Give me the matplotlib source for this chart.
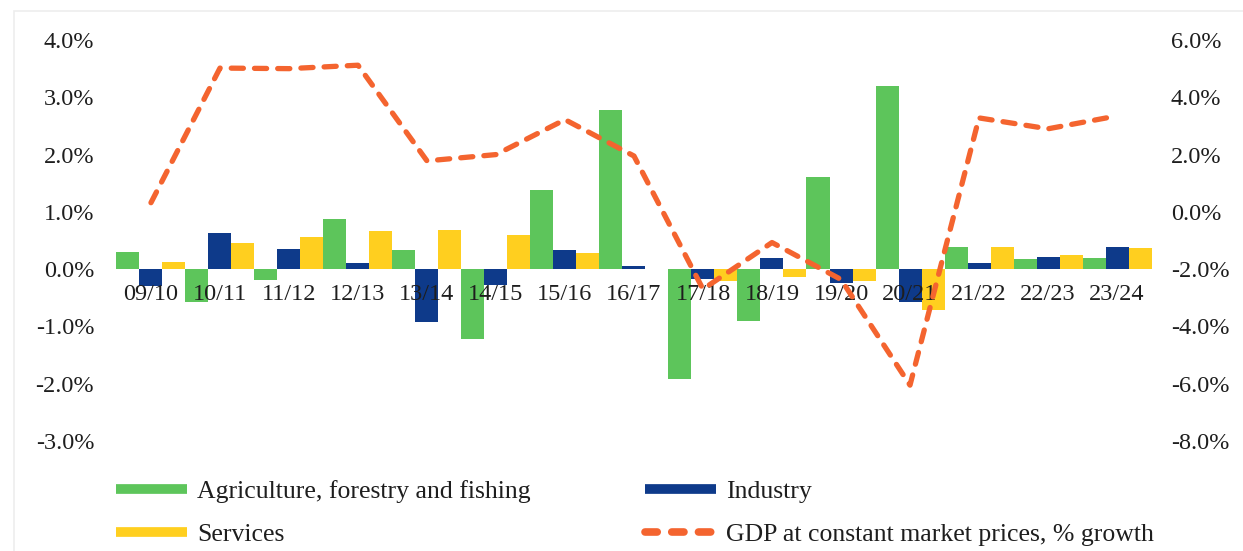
import numpy as np
import matplotlib
matplotlib.use("Agg")
import matplotlib.pyplot as plt
from matplotlib.lines import Line2D
from matplotlib.patches import Rectangle

# Fiscal years
years = ["09/10", "10/11", "11/12", "12/13", "13/14", "14/15", "15/16", "16/17",
         "17/18", "18/19", "19/20", "20/21", "21/22", "22/23", "23/24"]

# Sector contributions to growth, percentage points (left axis)
agriculture = [0.30, -0.57, -0.19, 0.88, 0.34, -1.22, 1.39, 2.78,
               -1.91, -0.91, 1.61, 3.20, 0.38, 0.17, 0.19]
industry = [-0.30, 0.63, 0.35, 0.10, -0.93, -0.28, 0.33, 0.06,
            -0.17, 0.19, -0.25, -0.58, 0.10, 0.22, 0.39]
services = [0.13, 0.46, 0.56, 0.66, 0.68, 0.59, 0.29, 0.0,
            -0.20, -0.14, -0.20, -0.72, 0.38, 0.25, 0.37]

# Real GDP growth, % (right axis)
gdp_growth = [0.32, 5.02, 5.00, 5.12, 1.78, 2.00, 3.22, 1.95,
              -2.70, -1.07, -2.36, -6.05, 3.28, 2.90, 3.35]

left_ticks = [4.0, 3.0, 2.0, 1.0, 0.0, -1.0, -2.0, -3.0]
right_ticks = [6.0, 4.0, 2.0, 0.0, -2.0, -4.0, -6.0, -8.0]

GREEN = "#5DC55B"
BLUE = "#0E3A8A"
YELLOW = "#FFCF1F"
ORANGE = "#F4642F"
TEXT = "#1E1E1E"

plt.rcParams["font.family"] = ["Liberation Serif", "DejaVu Serif"]
FS = 17.5
LEG_FS = 18.5

fig = plt.figure(figsize=(12.43, 5.51), dpi=100)
ax = fig.add_axes([0.0937, 0.1996, 0.8327, 0.7278])

x = np.arange(len(years))
w = 1 / 3
ax.bar(x - w, agriculture, width=w, color=GREEN, zorder=2)
ax.bar(x, industry, width=w, color=BLUE, zorder=2)
ax.bar(x + w, services, width=w, color=YELLOW, zorder=2)

# category labels sit just under the zero line, drawn over the bars
ax.spines["bottom"].set_position(("data", 0))
for s in ax.spines.values():
    s.set_visible(False)
ax.set_axisbelow(False)
ax.set_xlim(-0.5, len(years) - 0.5)
ax.set_ylim(-3.0, 4.0)
ax.set_xticks(x)
ax.set_xticklabels(years, color=TEXT, fontsize=FS)
ax.set_yticks(left_ticks)
ax.set_yticklabels([f"{v:.1f}%" for v in left_ticks], color=TEXT, fontsize=FS)
ax.tick_params(axis="y", length=0, pad=16)
ax.tick_params(axis="x", length=0, pad=11)

ax2 = ax.twinx()
ax2.plot(x, gdp_growth, color=ORANGE, lw=3.8, linestyle=(0, (2.3, 2.1)),
         dash_capstyle="round", solid_joinstyle="round",
         dash_joinstyle="round", zorder=3)
ax2.set_ylim(-8.0, 6.0)
ax2.set_yticks(right_ticks)
ax2.set_yticklabels([f"{v:.1f}%" for v in right_ticks], color=TEXT, fontsize=FS)
ax2.tick_params(axis="y", length=0, pad=14)
for s in ax2.spines.values():
    s.set_visible(False)


def bar_handle(color):
    return Line2D([], [], color=color, lw=7, solid_capstyle="butt")


legend_kw = dict(loc="upper left", frameon=False, handlelength=2.75,
                 handletextpad=0.42, labelspacing=0.78, borderaxespad=0,
                 borderpad=0, fontsize=LEG_FS)

leg1 = fig.legend([bar_handle(GREEN), bar_handle(YELLOW)],
                  ["Agriculture, forestry and fishing", "Services"],
                  bbox_to_anchor=(116 / 1243, 1 - 480 / 551), **legend_kw)
leg2 = fig.legend([bar_handle(BLUE),
                   Line2D([], [], color=ORANGE, lw=5.5, linestyle=(0, (1.6, 1.9)),
                          dash_capstyle="round")],
                  ["Industry", "GDP at constant market prices, % growth"],
                  bbox_to_anchor=(645 / 1243, 1 - 480 / 551), **legend_kw)
for lg in (leg1, leg2):
    for t in lg.get_texts():
        t.set_color(TEXT)

# faint outer frame
fig.patches.append(Rectangle((0.011, -0.01), 0.99, 0.99, transform=fig.transFigure,
                             fill=False, edgecolor="#EDEDED", lw=1.2))

fig.savefig("out.png", dpi=100)
